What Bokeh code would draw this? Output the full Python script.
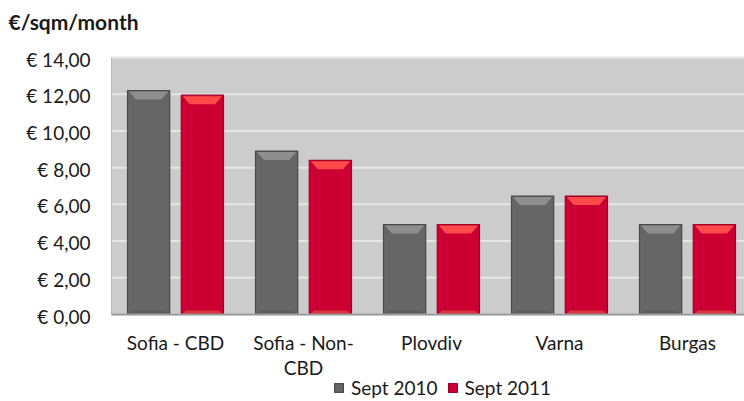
from bokeh.plotting import figure
from bokeh.models import Range1d, Legend, LegendItem
from bokeh.core.properties import value
from bokeh.embed import file_html
from bokeh.resources import INLINE

# ---- data ----
categories = ["Sofia - CBD", "Sofia - Non-\nCBD", "Plovdiv", "Varna", "Burgas"]
series_names = ["Sept 2010", "Sept 2011"]
sept_2010 = [12.2, 8.9, 4.9, 6.45, 4.9]
sept_2011 = [11.95, 8.4, 4.9, 6.45, 4.9]
y_ticks = [0, 2, 4, 6, 8, 10, 12, 14]
y_tick_labels = ["€ 0,00", "€ 2,00", "€ 4,00", "€ 6,00", "€ 8,00", "€ 10,00", "€ 12,00", "€ 14,00"]
y_title = "€/sqm/month"

# ---- layout (canvas pixels) ----
W, H = 744, 401
PLOT_LEFT = 111        # canvas x of the plot-area left edge
AXIS_Y = 314           # canvas y of the value-0 line
TOP_Y = 57             # canvas y of the value-14 line
cat_px = 128.0
y_max = 14
ppx = cat_px
ppy = (AXIS_Y - TOP_Y) / y_max


def cx(px):  # canvas x -> data x
    return (px - PLOT_LEFT) / ppx


def cy(py):  # canvas y -> data y
    return (AXIS_Y - py) / ppy


x_end = cx(W)

FONT = "Lato"
TXT = "#1a1a1a"
FS = "19px"

p = figure(frame_width=W, frame_height=H,
           x_range=Range1d(cx(0), cx(W)), y_range=Range1d(cy(H), cy(0)),
           output_backend="svg", toolbar_location=None,
           min_border_left=0, min_border_right=0, min_border_top=0, min_border_bottom=0)
p.background_fill_color = "white"
p.border_fill_color = "white"
p.outline_line_color = None
p.grid.visible = False
p.axis.visible = False

# plot-area background, grid lines
p.quad(left=[0], right=[x_end], bottom=[0], top=[y_max], fill_color="#cccccc", line_color=None)
p.segment(x0=[0] * len(y_ticks), x1=[x_end] * len(y_ticks), y0=y_ticks, y1=y_ticks,
          line_color="#e6e6e6", line_width=2)
p.segment(x0=[0], x1=[0], y0=[0], y1=[y_max], line_color="#b8b8b8", line_width=1)

# y tick labels
p.text(x=[cx(90)] * len(y_ticks), y=[t - 1.5 / ppy for t in y_ticks], text=y_tick_labels,
       text_font=value(FONT), text_font_size=FS, text_color=TXT,
       text_align="right", text_baseline="middle")

# title
p.text(x=[cx(8)], y=[cy(21)], text=[y_title], text_font=value(FONT), text_font_size="21px",
       text_font_style="bold", text_color=TXT, text_align="left", text_baseline="middle")

bar_w = 0.33
offsets = [-0.21, 0.21]
styles = [
    dict(fill="#666666", edge="#4a4a4a", top="#8e8e8e", bottom="#5c5c5c"),
    dict(fill="#cc0033", edge="#a00028", top="#ff4a4a", bottom="#d8363a"),
]
bevel_h = 9 / ppy
bevel_in = 7 / ppx
base_h = 4 / ppy
renderers = []
for vals, off, st in zip([sept_2010, sept_2011], offsets, styles):
    xs = [i + 0.5 + off for i in range(len(vals))]
    r = p.vbar(x=xs, top=vals, bottom=0, width=bar_w, fill_color=st["fill"],
               line_color=st["edge"], line_width=1.2)
    renderers.append(r)
    px_list, py_list = [], []
    for x, v in zip(xs, vals):
        l, rr = x - bar_w / 2 + 1.5 / ppx, x + bar_w / 2 - 1.5 / ppx
        px_list.append([l, rr, rr - bevel_in, l + bevel_in])
        py_list.append([v - 1 / ppy, v - 1 / ppy, v - bevel_h, v - bevel_h])
    p.patches(px_list, py_list, fill_color=st["top"], line_color=None)
    bx, by = [], []
    for x, v in zip(xs, vals):
        l, rr = x - bar_w / 2 + 1.5 / ppx, x + bar_w / 2 - 1.5 / ppx
        bx.append([l, rr, rr - 3 / ppx, l + 3 / ppx])
        by.append([1 / ppy, 1 / ppy, base_h, base_h])
    p.patches(bx, by, fill_color=st["bottom"], line_color=None)

# category axis line and labels
p.segment(x0=[0], x1=[x_end], y0=[0], y1=[0], line_color="#9a9a9a", line_width=2)
x_ticks = [i + 0.5 for i in range(len(categories))]
p.text(x=x_ticks, y=[cy(330)] * len(categories), text=categories,
       text_font=value(FONT), text_font_size=FS, text_color=TXT,
       text_align="center", text_baseline="top", text_line_height=1.12)

legend = Legend(items=[LegendItem(label=n, renderers=[r]) for n, r in zip(series_names, renderers)],
                orientation="horizontal", location=(333, 2))
legend.background_fill_alpha = 0
legend.border_line_color = None
legend.label_text_font = FONT
legend.label_text_font_size = FS
legend.label_text_color = TXT
legend.label_height = 18
legend.glyph_width = 11
legend.glyph_height = 11
legend.label_standoff = 7
legend.spacing = 9
legend.padding = 0
legend.margin = 0
p.add_layout(legend, "center")

open("out.html", "w").write(file_html(p, INLINE))
